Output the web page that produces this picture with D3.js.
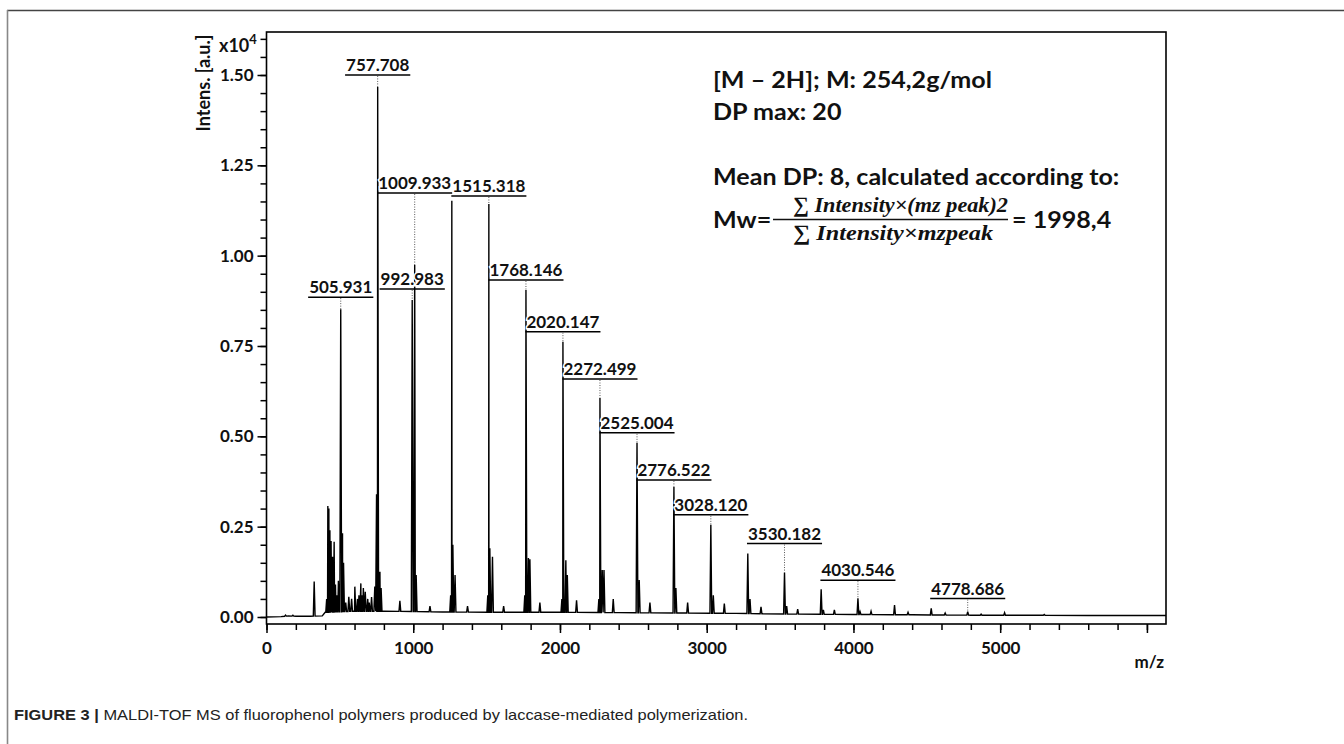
<!DOCTYPE html>
<html><head><meta charset="utf-8">
<script src="https://cdn.jsdelivr.net/npm/d3@7"></script>
<style>
html,body{margin:0;padding:0;background:#fff;}
svg{display:block;}
</style></head>
<body>
<svg id="chart" width="1344" height="744"></svg>
<script>
// ---------------- DATA ----------------
// baseline level of the spectrum (m/z, intensity x10^4)
const baselineMz  = [0, 100, 150, 200, 300, 380, 400, 600, 800, 1200, 1600, 2000, 2400, 2800, 3200, 3600, 4000, 4400, 4800, 5200, 5600, 6000, 6130];
const baselineInt = [0.000, 0.001, 0.003, 0.002, 0.002, 0.003, 0.013, 0.016, 0.016, 0.014, 0.013, 0.013, 0.012, 0.011, 0.010, 0.008, 0.007, 0.006, 0.005, 0.005, 0.004, 0.004, 0.004];
// peaks (m/z, intensity x10^4)
const peakMz  = [130, 180, 325, 410, 418, 425, 432, 440, 445, 450, 461, 470, 480, 490, 505.931, 518, 525, 540, 561, 580, 602, 620, 630, 643, 650, 660, 673, 690, 700, 716, 738, 750, 757.708, 773, 781, 909,
                 992.983, 1009.933, 1020, 1114, 1255, 1263, 1270, 1285, 1370, 1508, 1515.318, 1522, 1540, 1616, 1760, 1768.146, 1785, 1795, 1863,
                 2013, 2020.147, 2040, 2050, 2113, 2265, 2272.499, 2288, 2300, 2363, 2525.004, 2540, 2613, 2776.522, 2790, 2870,
                 3028.120, 3045, 3120, 3280, 3295, 3370, 3530.182, 3545, 3620, 3780, 3795, 3870, 4030.546, 4045, 4120,
                 4280, 4372, 4530, 4625, 4778.686, 4870, 5030, 5300];
const peakInt = [0.005, 0.005, 0.098, 0.050, 0.307, 0.300, 0.240, 0.210, 0.120, 0.167, 0.208, 0.090, 0.060, 0.100, 0.852, 0.232, 0.150, 0.040, 0.056, 0.050, 0.084, 0.050, 0.060, 0.093, 0.060, 0.080, 0.070, 0.050, 0.040, 0.055, 0.084, 0.340, 1.467, 0.125, 0.080, 0.045,
                 0.877, 0.974, 0.116, 0.030, 0.060, 1.152, 0.200, 0.116, 0.030, 0.060, 1.143, 0.190, 0.167, 0.030, 0.060, 0.905, 0.163, 0.160, 0.040,
                 0.050, 0.762, 0.157, 0.116, 0.046, 0.050, 0.606, 0.130, 0.130, 0.050, 0.482, 0.102, 0.040, 0.360, 0.080, 0.040,
                 0.255, 0.060, 0.037, 0.176, 0.050, 0.028, 0.123, 0.030, 0.022, 0.077, 0.020, 0.020, 0.052, 0.015, 0.016,
                 0.033, 0.013, 0.024, 0.011, 0.015, 0.008, 0.012, 0.007];
// annotated peaks
const labelText = ["505.931", "757.708", "992.983", "1009.933", "1515.318", "1768.146", "2020.147", "2272.499", "2525.004", "2776.522", "3028.120", "3530.182", "4030.546", "4778.686"];
const labelApex = [0.852, 1.467, 0.877, 0.974, 1.143, 0.905, 0.762, 0.606, 0.482, 0.360, 0.255, 0.123, 0.052, 0.015];
// axis ticks
const xTickValues = [0, 1000, 2000, 3000, 4000, 5000, 6000];
const xTickLabels = ["0", "1000", "2000", "3000", "4000", "5000", ""];
const yTickValues = [0, 0.25, 0.5, 0.75, 1.0, 1.25, 1.5];
const yTickLabels = ["0.00", "0.25", "0.50", "0.75", "1.00", "1.25", "1.50"];
const annotationLines = ["[M \u2013 2H]; M: 254,2g/mol", "DP max: 20", "Mean DP: 8, calculated according to:"];
const formulaNum = "\u2211 Intensity\u00d7(mz peak)2";
const formulaDen = "\u2211 Intensity\u00d7mzpeak";
const formulaResult = "= 1998,4";
const caption = ["FIGURE 3 |", " MALDI-TOF MS of fluorophenol polymers produced by laccase-mediated polymerization."];

// ---------------- LAYOUT ----------------
// vertical gap (px) between each label underline and its peak apex
const labelGap = [12, 12, 11, 72, 8, 10, 10, 19, 10, 7, 10, 29, 18, 13];

const svg = d3.select("#chart");
const X0 = 266.5, X1 = 1166, Y0 = 32, Y1 = 624;
const x = d3.scaleLinear().domain([0, 6130]).range([X0, X1]);
const y = d3.scaleLinear().domain([-0.0194, 1.619]).range([Y1, Y0]);
const FONT = "Lato, 'Open Sans', sans-serif";

// outer figure frame
svg.append("line").attr("x1", 7).attr("x2", 1344).attr("y1", 10.5).attr("y2", 10.5).attr("stroke", "#444").attr("stroke-width", 1.6);
svg.append("line").attr("x1", 7.5).attr("x2", 7.5).attr("y1", 10).attr("y2", 744).attr("stroke", "#888").attr("stroke-width", 1.6);

// spectrum
const baseAt = d3.scaleLinear().domain(baselineMz).range(baselineInt);
const pts = baselineMz.map((m, i) => [m, baselineInt[i]]);
const HW = 6;
peakMz.forEach((m, i) => {
  pts.push([m - HW, baseAt(m - HW)]);
  pts.push([m, peakInt[i]]);
  pts.push([m + HW, baseAt(m + HW)]);
});
pts.sort((a, b) => a[0] - b[0]);
const g = svg.append("g");
g.append("path").datum(pts)
  .attr("d", d3.line().x(d => x(d[0])).y(d => y(d[1])))
  .attr("fill", "none").attr("stroke", "#000").attr("stroke-width", 1.4).attr("stroke-linejoin", "miter");

// axes
const yMinor = d3.range(0, 1.6001, 0.05);
const yAxMinor = svg.append("g").attr("transform", `translate(${X0},0)`)
  .call(d3.axisLeft(y).tickValues(yMinor).tickSize(6).tickFormat(""));
const yAx = svg.append("g").attr("transform", `translate(${X0},0)`)
  .call(d3.axisLeft(y).tickValues(yTickValues).tickSize(9).tickPadding(4).tickFormat((d, i) => yTickLabels[i]));
const xMinor = d3.range(0, 6001, 200);
const xAxMinor = svg.append("g").attr("transform", `translate(0,${Y1})`)
  .call(d3.axisBottom(x).tickValues(xMinor).tickSize(6).tickFormat(""));
const xAx = svg.append("g").attr("transform", `translate(0,${Y1})`)
  .call(d3.axisBottom(x).tickValues(xTickValues).tickSize(9).tickPadding(9).tickFormat((d, i) => xTickLabels[i]));
[yAxMinor, yAx, xAxMinor, xAx].forEach(a => {
  a.select(".domain").remove();
  a.selectAll(".tick line").attr("stroke", "#000").attr("stroke-width", 1.5);
  a.selectAll("text").attr("fill", "#111").style("font-family", FONT).style("font-weight", "700").style("font-size", "17px");
});
// plot frame
svg.append("rect").attr("x", X0).attr("y", Y0).attr("width", X1 - X0).attr("height", Y1 - Y0)
  .attr("fill", "none").attr("stroke", "#000").attr("stroke-width", 1.6);

// axis titles
svg.append("text").attr("transform", "translate(210,83) rotate(-90)").attr("text-anchor", "middle")
  .style("font-family", FONT).style("font-weight", "700").style("font-size", "18px").attr("fill", "#111").text("Intens. [a.u.]");
const xt = svg.append("text").attr("x", 219).attr("y", 52)
  .style("font-family", FONT).style("font-weight", "700").style("font-size", "18px").attr("fill", "#111");
xt.append("tspan").text("x10");
xt.append("tspan").attr("dy", -8).style("font-size", "13px").text("4");
svg.append("text").attr("x", 1164).attr("y", 668).attr("text-anchor", "end")
  .style("font-family", FONT).style("font-weight", "700").style("font-size", "17px").attr("fill", "#111").text("m/z");

// peak labels
const lab = svg.append("g");
labelText.forEach((t, i) => {
  const m = +t;
  const px = x(m), ap = y(labelApex[i]);
  const uy = ap - labelGap[i];
  const txt = lab.append("text").attr("x", px).attr("y", uy - 4).attr("text-anchor", "middle")
    .style("font-family", FONT).style("font-weight", "700").style("font-size", "17px").attr("fill", "#111")
    .attr("stroke", "#fff").attr("stroke-width", 3).attr("paint-order", "stroke").text(t);
  const w = txt.node().getComputedTextLength();
  lab.append("line").attr("x1", px - w / 2 - 1).attr("x2", px + w / 2 + 1).attr("y1", uy).attr("y2", uy)
    .attr("stroke", "#000").attr("stroke-width", 1.5);
  lab.append("line").attr("x1", px).attr("x2", px).attr("y1", uy + 1).attr("y2", ap)
    .attr("stroke", "#555").attr("stroke-width", 1).attr("stroke-dasharray", "1,1.5");
});

// annotation block (Calibri-like widths: stretch Lato to the reference line widths)
const ann = svg.append("g").style("font-family", FONT).style("font-weight", "700").attr("fill", "#111");
const annY = [88, 120, 185];
const annNodes = annotationLines.map((t, i) =>
  ann.append("text").attr("x", 713).attr("y", annY[i]).style("font-size", "23px").text(t));
const mwNode = ann.append("text").attr("x", 713).attr("y", 228).style("font-size", "23px").text("Mw=");
const resNode = ann.append("text").attr("x", 1012).attr("y", 228).style("font-size", "23px").text(formulaResult);
const k = 279 / annNodes[0].node().getComputedTextLength();
[...annNodes, mwNode, resNode].forEach(n => {
  const w = n.node().getComputedTextLength();
  n.attr("textLength", w * k).attr("lengthAdjust", "spacingAndGlyphs");
});
const SERIF = "'Liberation Serif', 'DejaVu Serif', serif";
svg.append("text").attr("x", 793).attr("y", 212)
  .style("font-family", SERIF).style("font-style", "italic").style("font-weight", "700").style("font-size", "22px")
  .attr("textLength", 215).attr("lengthAdjust", "spacingAndGlyphs")
  .attr("fill", "#111").text(formulaNum);
svg.append("line").attr("x1", 773).attr("x2", 1008).attr("y1", 219.5).attr("y2", 219.5).attr("stroke", "#111").attr("stroke-width", 1.3);
svg.append("text").attr("x", 793).attr("y", 240)
  .style("font-family", SERIF).style("font-style", "italic").style("font-weight", "700").style("font-size", "22px")
  .attr("textLength", 200).attr("lengthAdjust", "spacingAndGlyphs")
  .attr("fill", "#111").text(formulaDen);

// caption
const cap = svg.append("text").attr("x", 14).attr("y", 720)
  .style("font-family", "'Liberation Sans', Arial, sans-serif").style("font-size", "15px").attr("fill", "#222")
  .attr("textLength", 734).attr("lengthAdjust", "spacingAndGlyphs");
cap.append("tspan").style("font-weight", "700").text(caption[0]);
cap.append("tspan").text(caption[1]);
</script>
</body></html>
